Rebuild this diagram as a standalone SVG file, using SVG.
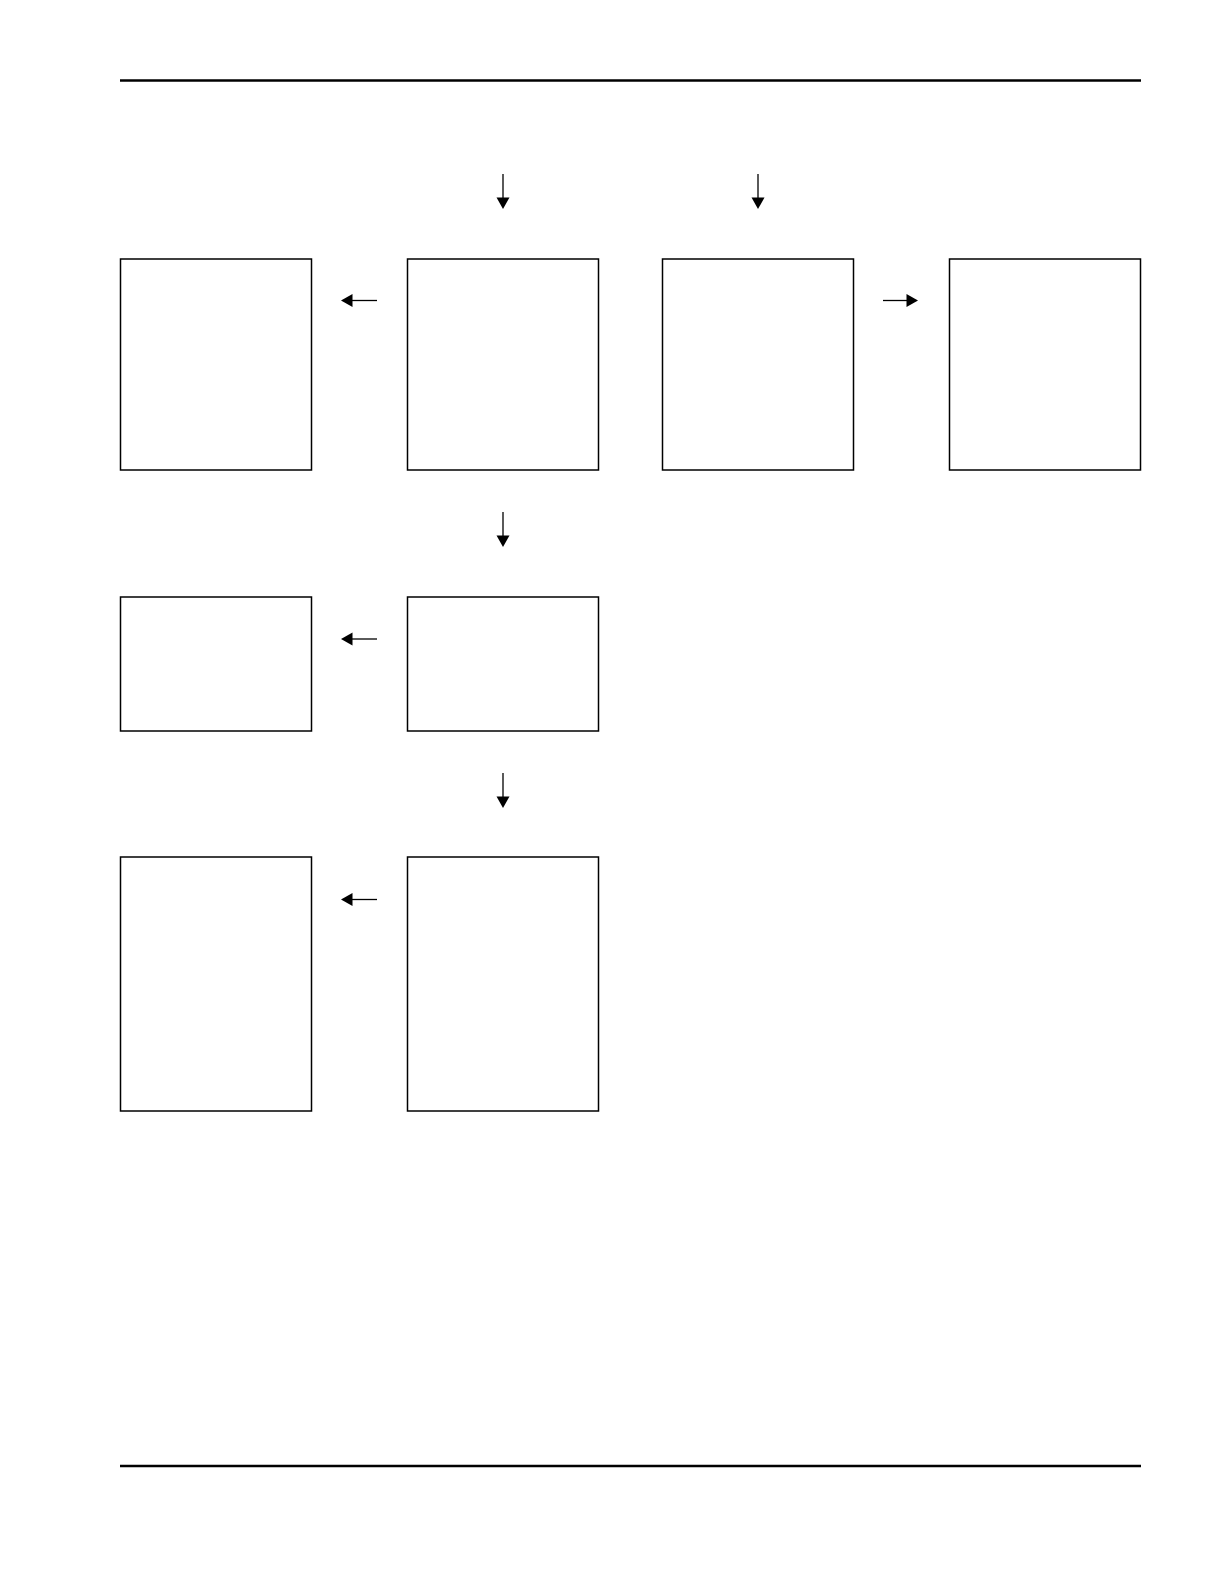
<svg xmlns="http://www.w3.org/2000/svg" width="1224" height="1584" viewBox="0 0 1224 1584">
  <style>
    .rule { stroke: #000; stroke-width: 2.6; }
    .box { fill: #fff; stroke: #000; stroke-width: 1.5; }
    .conn { stroke: #000; stroke-width: 1.3; fill: none; }
    .head { fill: #000; stroke: none; }
  </style>
  <rect x="0" y="0" width="1224" height="1584" fill="#fff"/>
  <g id="header-rule"><line class="rule" x1="120" y1="80.5" x2="1141" y2="80.5"/></g>
  <g id="footer-rule"><line class="rule" x1="120" y1="1466" x2="1141" y2="1466"/></g>

  <g id="node-1"><rect class="box" x="120.5" y="259" width="191" height="211"/></g>
  <g id="node-2"><rect class="box" x="407.5" y="259" width="191" height="211"/></g>
  <g id="node-3"><rect class="box" x="662.5" y="259" width="191" height="211"/></g>
  <g id="node-4"><rect class="box" x="949.5" y="259" width="191" height="211"/></g>
  <g id="node-5"><rect class="box" x="120.5" y="597" width="191" height="134"/></g>
  <g id="node-6"><rect class="box" x="407.5" y="597" width="191" height="134"/></g>
  <g id="node-7"><rect class="box" x="120.5" y="857" width="191" height="254"/></g>
  <g id="node-8"><rect class="box" x="407.5" y="857" width="191" height="254"/></g>

  <g id="connectors">
    <line class="conn" x1="503" y1="174" x2="503" y2="199"/>
    <polygon class="head" points="496.5,197.5 509.5,197.5 503,209"/>
    <line class="conn" x1="758" y1="174" x2="758" y2="199"/>
    <polygon class="head" points="751.5,197.5 764.5,197.5 758,209"/>
    <line class="conn" x1="503" y1="512" x2="503" y2="537"/>
    <polygon class="head" points="496.5,535.5 509.5,535.5 503,547"/>
    <line class="conn" x1="503" y1="773" x2="503" y2="798"/>
    <polygon class="head" points="496.5,796.5 509.5,796.5 503,808"/>
    <line class="conn" x1="377" y1="300.5" x2="351" y2="300.5"/>
    <polygon class="head" points="352.5,294 352.5,307 341,300.5"/>
    <line class="conn" x1="377" y1="639" x2="351" y2="639"/>
    <polygon class="head" points="352.5,632.5 352.5,645.5 341,639"/>
    <line class="conn" x1="377" y1="899.5" x2="351" y2="899.5"/>
    <polygon class="head" points="352.5,893 352.5,906 341,899.5"/>
    <line class="conn" x1="883" y1="300.5" x2="908" y2="300.5"/>
    <polygon class="head" points="906.5,294 906.5,307 918,300.5"/>
  </g>
</svg>
